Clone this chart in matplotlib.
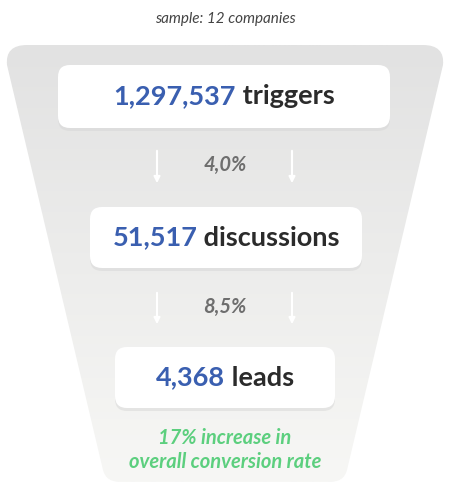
import matplotlib
matplotlib.use("Agg")
import matplotlib.pyplot as plt
import numpy as np
from matplotlib.patches import FancyBboxPatch
from matplotlib.path import Path as MplPath
from matplotlib.patches import PathPatch
from matplotlib.colors import LinearSegmentedColormap

# data
stages = ["triggers", "discussions", "leads"]
counts = ["1,297,537", "51,517", "4,368"]
rates = ["4,0%", "8,5%"]
note = "17% increase in\noverall conversion rate"
sample = "sample: 12 companies"

BLUE = "#3a5fb0"
INK = "#2b2b2b"
GREEN = "#5ccf7e"
GREY = "#6e6e6e"

fig = plt.figure(figsize=(4.5, 5.0), dpi=100, facecolor="white")
ax = fig.add_axes([0, 0, 1, 1])
ax.set_xlim(0, 450)
ax.set_ylim(500, 0)
ax.axis("off")

# funnel background with vertical gradient, rounded corners
r = 22
verts = [(5 + r, 45), (445 - r, 45), (445, 45), (443, 65),
         (347, 470), (344, 482), (330, 482),
         (120, 482), (106, 482), (103, 470),
         (7, 65), (5, 45), (5 + r, 45), (5 + r, 45)]
codes = [MplPath.MOVETO, MplPath.LINETO, MplPath.CURVE3, MplPath.CURVE3,
         MplPath.LINETO, MplPath.CURVE3, MplPath.CURVE3,
         MplPath.LINETO, MplPath.CURVE3, MplPath.CURVE3,
         MplPath.LINETO, MplPath.CURVE3, MplPath.CURVE3, MplPath.CLOSEPOLY]
funnel = PathPatch(MplPath(verts, codes), facecolor="none", edgecolor="none")
ax.add_patch(funnel)
grad = np.linspace(0.0, 1.0, 256)[:, None]
cmap = LinearSegmentedColormap.from_list("g", ["#e2e2e2", "#f7f7f5"])
im = ax.imshow(grad, extent=(0, 450, 482, 45), cmap=cmap, aspect="auto", zorder=1)
im.set_clip_path(funnel)

ax.text(225, 19, sample, ha="center", va="center", fontsize=11,
        style="italic", color="#444444", family="Lato")

boxes = [(58, 65, 332, 63), (90, 207, 272, 61), (115, 347, 220, 61)]
for (x, y, w, h), c, s in zip(boxes, counts, stages):
    sh = FancyBboxPatch((x, y + 3), w, h, boxstyle="round,pad=0,rounding_size=12",
                        facecolor="#d6d6d6", edgecolor="none", alpha=0.5, zorder=2)
    ax.add_patch(sh)
    b = FancyBboxPatch((x, y), w, h, boxstyle="round,pad=0,rounding_size=12",
                       facecolor="white", edgecolor="none", zorder=3)
    ax.add_patch(b)
    t1 = ax.text(0, 0, c, fontsize=19.5, weight="bold", color=BLUE, family="Lato")
    t2 = ax.text(0, 0, " " + s, fontsize=19.5, weight="bold", color=INK, family="Lato")
    fig.canvas.draw()
    inv = ax.transData.inverted()
    w1 = t1.get_window_extent().width
    w2 = t2.get_window_extent().width
    total = w1 + w2
    cx_disp = ax.transData.transform((x + w / 2, y + h / 2))
    x0 = cx_disp[0] - total / 2
    p1 = inv.transform((x0, cx_disp[1]))
    p2 = inv.transform((x0 + w1, cx_disp[1]))
    t1.set_position(p1); t1.set_va("center"); t1.set_zorder(4)
    t2.set_position(p2); t2.set_va("center"); t2.set_zorder(4)

for (y0, y1), rate in zip([(148, 186), (290, 327)], rates):
    for xa in (157, 292):
        ax.annotate("", xy=(xa, y1), xytext=(xa, y0),
                    arrowprops=dict(arrowstyle="-|>", color="white", lw=1.5,
                                    mutation_scale=9), zorder=3)
    ax.text(225, (y0 + y1) / 2 - 2, rate, ha="center", va="center", fontsize=14.5,
            weight="bold", style="italic", color=GREY, family="Lato", zorder=4)

ax.text(225, 450, note, ha="center", va="center", fontsize=14.5, weight="bold",
        style="italic", color=GREEN, family="Lato", linespacing=1.2, zorder=4)

fig.savefig("out.png", dpi=100, facecolor="white")
